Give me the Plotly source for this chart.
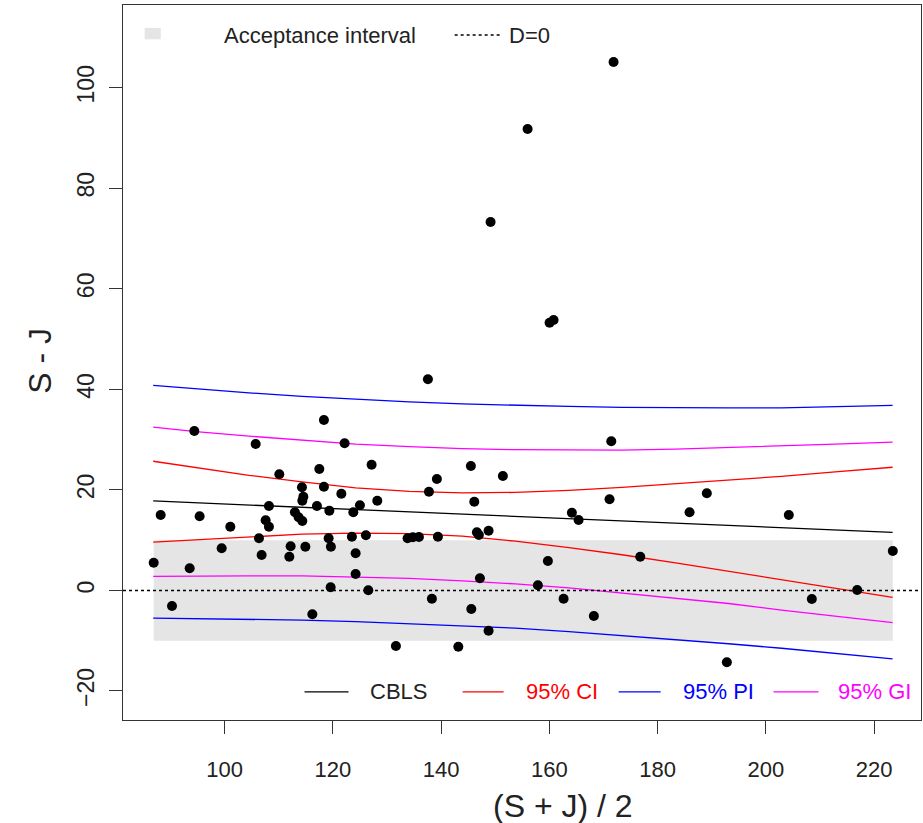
import plotly.graph_objects as go

# ---------------- data ----------------
mean_sj = [86.89, 88.18, 90.27, 93.54, 94.40, 95.38, 99.45, 101.05, 105.73, 106.34,
           106.83, 107.57, 108.18, 108.18, 110.10, 111.95, 112.19, 112.98, 113.67, 114.35,
           114.28, 114.54, 114.35, 114.91, 116.20, 117.49, 117.05, 118.34, 118.34, 119.34,
           119.21, 119.63, 119.58, 121.56, 122.16, 123.51, 123.77, 124.20, 124.20, 124.99,
           126.10, 126.54, 127.15, 128.20, 131.64, 137.55, 137.74, 139.21, 133.80, 134.78,
           135.89, 139.40, 138.29, 145.49, 146.12, 151.40, 146.60, 146.97, 148.76, 147.16,
           145.57, 148.76, 143.17, 160.03, 160.77, 149.13, 155.97, 171.85, 171.43, 171.11,
           164.15, 165.39, 159.72, 157.87, 162.62, 168.21, 176.78, 189.08, 185.89, 204.23,
           223.44, 216.86, 208.48, 192.78]
diff_sj = [5.52, 15.01, -3.09, 4.41, 31.72, 14.75, 8.38, 12.68, 29.13, 10.37,
           7.05, 13.95, 16.80, 12.68, 23.10, 6.71, 8.78, 15.54, 14.55, 13.81,
           20.52, 18.65, 17.85, 8.70, -4.74, 24.16, 16.80, 33.90, 20.64, 15.86,
           10.37, 8.70, 0.63, 19.24, 29.27, 10.69, 15.54, 7.39, 3.27, 16.94,
           10.97, 0.03, 25.01, 17.85, -11.05, 42.00, 19.64, 22.17, 10.37, 10.57,
           10.63, 10.69, -1.64, 24.75, 17.65, 22.77, 11.57, 11.03, 11.88, 2.42,
           -3.69, -8.01, -11.19, 53.26, 53.79, 73.29, 91.78, 105.11, 29.67, 18.13,
           15.47, 14.01, 5.86, 1.02, -1.64, -5.08, 6.71, 19.32, 15.54, 15.01,
           7.85, 0.09, -1.70, -14.29]

curve_x = [86.8, 94.7, 104.5, 114.3, 124.2, 134.1, 143.9, 153.7, 163.6, 173.4,
           183.3, 193.1, 202.9, 212.8, 223.4]
cbls = [17.80, 17.44, 16.99, 16.54, 16.09, 15.64, 15.19, 14.74, 14.29, 13.84,
        13.38, 12.94, 12.49, 12.03, 11.55]
ci_upper = [25.7, 24.4, 22.9, 21.6, 20.4, 19.7, 19.4, 19.5, 19.9, 20.5, 21.2, 21.9, 22.7, 23.6, 24.5]
ci_lower = [9.6, 10.1, 10.7, 11.2, 11.4, 11.3, 10.8, 9.8, 8.5, 7.1, 5.5, 3.8, 2.1, 0.4, -1.4]
gi_upper = [32.5, 31.6, 30.7, 29.9, 29.1, 28.6, 28.2, 28.0, 27.9, 27.9, 28.1, 28.4, 28.7, 29.1, 29.5]
gi_lower = [2.8, 2.9, 2.9, 2.9, 2.7, 2.4, 1.9, 1.3, 0.5, -0.5, -1.5, -2.6, -3.9, -5.1, -6.4]
pi_upper = [40.8, 40.1, 39.3, 38.6, 38.0, 37.5, 37.1, 36.8, 36.6, 36.4, 36.3, 36.3, 36.3, 36.5, 36.8]
pi_lower = [-5.5, -5.6, -5.7, -5.9, -6.2, -6.6, -7.0, -7.5, -8.2, -9.0, -9.7, -10.6, -11.5, -12.5, -13.6]

accept_lower = -10
accept_upper = 10

x_ticks = [100, 120, 140, 160, 180, 200, 220]
y_ticks = [-20, 0, 20, 40, 60, 80, 100]

# ---------------- figure ----------------
FONT = "Liberation Sans, Arial, sans-serif"
AX = "#333333"
TXT = "#222222"

fig = go.Figure()

band_specs = [
    (cbls, "black", "CBLS"),
    (ci_upper, "#FF0000", "95% CI"), (ci_lower, "#FF0000", "95% CI"),
    (pi_upper, "#0000FF", "95% PI"), (pi_lower, "#0000FF", "95% PI"),
    (gi_upper, "#FF00FF", "95% GI"), (gi_lower, "#FF00FF", "95% GI"),
]
for ys, col, name in band_specs:
    fig.add_trace(go.Scatter(x=curve_x, y=ys, mode="lines", name=name,
                             line=dict(color=col, width=1.3), showlegend=False,
                             hoverinfo="skip"))

fig.add_trace(go.Scatter(x=mean_sj, y=diff_sj, mode="markers",
                         marker=dict(color="black", size=10, line=dict(width=0)),
                         showlegend=False))

# acceptance interval band (data coordinates)
fig.add_shape(type="rect", xref="x", yref="y",
              x0=min(mean_sj), x1=max(mean_sj), y0=accept_lower, y1=accept_upper,
              fillcolor="#E5E5E5", line=dict(width=0), layer="below")
# D = 0 reference line
fig.add_shape(type="line", xref="paper", yref="y", x0=0, x1=1, y0=0, y1=0,
              line=dict(color="black", width=1.5, dash="dot"))

# ---------------- legends (drawn manually) ----------------
top_y = 0.958
fig.add_shape(type="rect", xref="paper", yref="paper", x0=0.0272, x1=0.0473,
              y0=0.952, y1=0.968, fillcolor="#E5E5E5", line=dict(width=0))
fig.add_annotation(xref="paper", yref="paper", x=0.1239, y=top_y, text="Acceptance interval",
                   showarrow=False, xanchor="left", yanchor="middle",
                   font=dict(family=FONT, size=22, color=TXT))
fig.add_shape(type="line", xref="paper", yref="paper", x0=0.4156, x1=0.4745,
              y0=top_y, y1=top_y, line=dict(color="black", width=1.5, dash="dot"))
fig.add_annotation(xref="paper", yref="paper", x=0.4808, y=top_y, text="D=0",
                   showarrow=False, xanchor="left", yanchor="middle",
                   font=dict(family=FONT, size=22, color=TXT))

bot_y = 0.0392
bottom_items = [
    ("CBLS", TXT, "black", 0.2275, 0.2826, 0.3066),
    ("95% CI", "#FF0000", "#FF0000", 0.4256, 0.4770, 0.5020),
    ("95% PI", "#0000FF", "#0000FF", 0.6211, 0.6737, 0.6987),
    ("95% GI", "#FF00FF", "#FF00FF", 0.8152, 0.8716, 0.8941),
]
for label, tcol, col, lx0, lx1, tx in bottom_items:
    fig.add_shape(type="line", xref="paper", yref="paper", x0=lx0, x1=lx1,
                  y0=bot_y, y1=bot_y, line=dict(color=col, width=1.3))
    fig.add_annotation(xref="paper", yref="paper", x=tx, y=bot_y, text=label,
                       showarrow=False, xanchor="left", yanchor="middle",
                       font=dict(family=FONT, size=22, color=tcol))

# axis titles
fig.add_annotation(xref="paper", yref="paper", x=(563 - 123.3) / 798.2, y=(720 - 806) / 715,
                   text="(S + J) / 2", showarrow=False, xanchor="center", yanchor="middle",
                   font=dict(family=FONT, size=32, color=TXT))
fig.add_annotation(xref="paper", yref="paper", x=(40 - 123.3) / 798.2, y=(720 - 361) / 715,
                   text="S - J", showarrow=False, xanchor="center", yanchor="middle",
                   textangle=-90, font=dict(family=FONT, size=32, color=TXT))

fig.update_layout(
    width=923, height=823,
    margin=dict(l=123, r=2, t=5, b=103),
    paper_bgcolor="white", plot_bgcolor="white",
    font=dict(family=FONT, color=TXT),
    showlegend=False,
    xaxis=dict(range=[81.22, 228.65], tickvals=x_ticks, ticks="outside", ticklen=13,
               tickwidth=1, tickcolor=AX, showline=True, linecolor=AX, linewidth=1.3,
               mirror=True, showgrid=False, zeroline=False,
               tickfont=dict(family=FONT, size=22, color=TXT),
               ticklabelstandoff=16),
    yaxis=dict(range=[-25.77, 116.45], tickvals=y_ticks, ticks="outside", ticklen=13,
               tickwidth=1, tickcolor=AX, showline=True, linecolor=AX, linewidth=1.3,
               mirror=True, showgrid=False, zeroline=False, tickangle=-90,
               tickfont=dict(family=FONT, size=23, color=TXT),
               ticklabelstandoff=6),
)

fig.write_html("out.html")
